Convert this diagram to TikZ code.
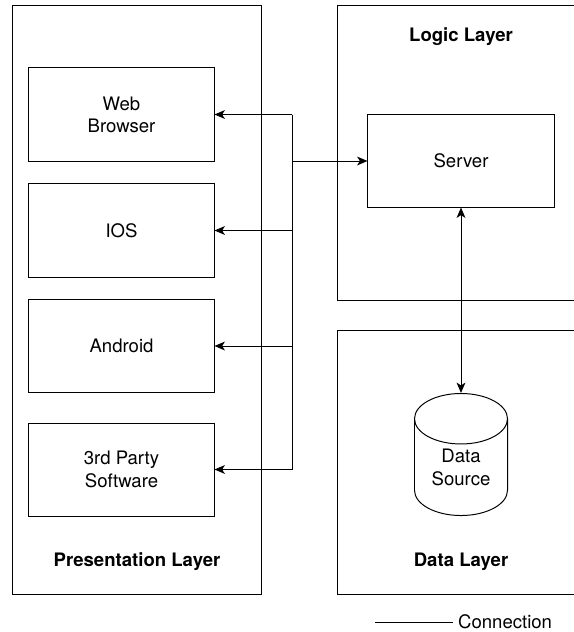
\documentclass[tikz,border=0pt]{standalone}
\usepackage{fontspec}
\setmainfont{TeX Gyre Heros}
\usetikzlibrary{positioning, arrows.meta, shapes.geometric}

\begin{document}
\begin{tikzpicture}[x=0.025cm, y=-0.025cm, line width=0.7pt,
    font=\fontsize{13.2}{15.8}\selectfont,
    layer/.style={draw, rectangle, inner sep=0pt},
    title/.style={font=\fontsize{13.2}{15.8}\selectfont\bfseries},
    client/.style={draw, rectangle, align=center, inner sep=0pt,
      minimum width=4.625cm, minimum height=2.325cm},
    db/.style={draw, cylinder, shape border rotate=90, aspect=0.86,
      align=center, inner sep=0pt, minimum width=2.325cm, minimum height=3.05cm},
    tip/.tip={Stealth[length=2.6mm, width=2.2mm, inset=0.7mm]},
    conn/.style={-tip},
    both/.style={tip-tip}]
  \useasboundingbox (0,0) rectangle (573,632);
  % layers
  \node[layer, minimum width=6.2cm, minimum height=14.7cm] (pres) at (137,300) {};
  \node[layer, minimum width=6.05cm, minimum height=7.35cm] (logic) at (459,153) {};
  \node[layer, minimum width=6.05cm, minimum height=6.575cm] (datalayer) at (459,462.5) {};
  \node[title] (preslabel) at (137,562) {Presentation Layer};
  \node[title] (logiclabel) at (461,37) {Logic Layer};
  \node[title] (datalabel) at (461,562) {Data Layer};
  % clients
  \node[client] (web) at (121.5,114.5) {Web\\Browser};
  \node[client] (ios) at (121.5,230.5) {IOS};
  \node[client] (android) at (121.5,346) {Android};
  \node[client] (third) at (121.5,469.5) {3rd Party\\Software};
  % server and data
  \node[client, minimum width=4.65cm, minimum height=2.3cm] (server) at (461,161) {Server};
  \node[db, anchor=north] (data) at (461,393) {Data\\Source};
  % connections
  \coordinate (bus) at (292,0);
  \draw (bus |- web) -- (bus |- third);
  \draw[conn] (bus |- web) -- (web);
  \draw[conn] (bus |- ios) -- (ios);
  \draw[conn] (bus |- android) -- (android);
  \draw[conn] (bus |- third) -- (third);
  \draw[conn] (bus |- server) -- (server);
  \draw[both] (server) -- (data);
  % legend
  \coordinate (legend) at (375,622);
  \node[anchor=west] (legendtext) at (453,622) {Connection};
  \draw (legend) -- (legendtext.west);
\end{tikzpicture}
\end{document}
